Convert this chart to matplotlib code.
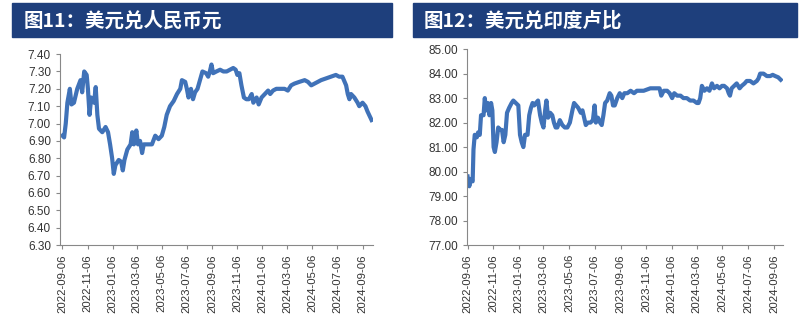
import numpy as np
import pandas as pd
import matplotlib
matplotlib.use("Agg")
import matplotlib.pyplot as plt
import matplotlib.dates as mdates
from matplotlib.patches import Rectangle

plt.rcParams['font.family'] = ['Liberation Sans', 'Noto Sans CJK SC', 'DejaVu Sans']

start = pd.Timestamp('2022-09-06')

# USD/CNY: days after 2022-09-06 and rate
cny_days = [0, 4, 8, 12, 18, 22, 28, 36, 44, 48,
            53, 59, 62, 66, 70, 77, 81, 85, 89, 97,
            105, 111, 116, 121, 125, 129, 137, 143, 147, 151,
            158, 166, 170, 174, 180, 184, 189, 194, 198, 206,
            218, 226, 234, 242, 248, 254, 262, 271, 279, 287,
            291, 299, 303, 307, 313, 318, 323, 329, 335, 341,
            350, 355, 359, 363, 367, 375, 384, 392, 400, 408,
            416, 422, 426, 431, 436, 442, 448, 454, 461, 465,
            473, 478, 485, 493, 501, 506, 513, 521, 533, 541,
            549, 557, 565, 577, 590, 598, 606, 614, 622, 630,
            642, 654, 666, 674, 682, 691, 695, 699, 703, 711,
            719, 723, 731, 738, 743, 749, 753]
cny_vals = [6.93, 6.92, 7.00, 7.12, 7.20, 7.11, 7.12, 7.20, 7.25, 7.18,
            7.30, 7.28, 7.20, 7.05, 7.15, 7.12, 7.21, 7.05, 6.97, 6.95,
            6.98, 6.95, 6.88, 6.80, 6.71, 6.76, 6.79, 6.78, 6.73, 6.79,
            6.85, 6.88, 6.95, 6.88, 6.96, 6.88, 6.90, 6.83, 6.88, 6.88,
            6.88, 6.93, 6.91, 6.93, 6.98, 7.05, 7.10, 7.13, 7.17, 7.20,
            7.25, 7.24, 7.20, 7.15, 7.20, 7.14, 7.18, 7.20, 7.25, 7.30,
            7.29, 7.27, 7.30, 7.34, 7.29, 7.30, 7.31, 7.30, 7.30, 7.31,
            7.32, 7.31, 7.28, 7.29, 7.22, 7.15, 7.14, 7.14, 7.17, 7.12,
            7.15, 7.11, 7.15, 7.17, 7.19, 7.17, 7.19, 7.20, 7.20, 7.20,
            7.19, 7.22, 7.23, 7.24, 7.25, 7.24, 7.22, 7.23, 7.24, 7.25,
            7.26, 7.27, 7.28, 7.27, 7.27, 7.22, 7.17, 7.14, 7.17, 7.15,
            7.12, 7.10, 7.12, 7.10, 7.07, 7.04, 7.02]

# USD/INR
inr_days = [0, 4, 8, 12, 14, 17, 22, 25, 29, 32,
            38, 41, 44, 48, 52, 56, 59, 62, 65, 69,
            73, 78, 82, 86, 90, 94, 99, 105, 109, 115,
            121, 125, 129, 133, 137, 143, 147, 151, 155, 159,
            163, 168, 173, 177, 181, 185, 188, 192, 197, 202,
            206, 210, 214, 220, 226, 232, 238, 244, 250, 254,
            259, 264, 270, 274, 278, 282, 287, 293, 299, 303,
            306, 311, 316, 320, 324, 328, 333, 339, 343, 347,
            351, 357, 363, 369, 374, 381, 389, 397, 404, 412,
            420, 428, 436, 444, 452, 458, 462, 468, 476, 482,
            488, 493, 500, 508, 515, 523, 531, 539, 547, 551,
            555, 559, 565, 571, 577, 583, 588, 595, 601, 607,
            612, 619, 623, 626, 630, 636, 642, 649, 654, 661,
            666, 674, 682, 690, 694, 698, 706, 714, 722, 728,
            734, 741, 747]
inr_vals = [79.8, 79.4, 79.7, 79.6, 80.9, 81.5, 81.4, 81.6, 81.5, 82.3,
            82.3, 83.0, 82.5, 82.8, 82.3, 82.8, 82.5, 81.0, 80.8, 81.2,
            81.8, 81.7, 81.7, 81.2, 81.5, 82.4, 82.6, 82.8, 82.9, 82.8,
            82.7, 81.5, 81.2, 81.0, 81.5, 81.5, 82.3, 82.6, 82.8, 82.7,
            82.8, 82.9, 82.3, 82.0, 81.8, 82.5, 82.9, 82.2, 82.4, 82.3,
            82.0, 81.8, 81.8, 82.1, 81.9, 81.8, 81.8, 82.0, 82.5, 82.8,
            82.7, 82.6, 82.4, 82.5, 82.2, 81.9, 82.0, 82.0, 82.1, 82.7,
            82.0, 82.2, 82.0, 81.9, 82.3, 82.8, 82.9, 83.2, 83.1, 82.7,
            82.7, 83.0, 83.2, 83.0, 83.2, 83.2, 83.3, 83.2, 83.3, 83.3,
            83.3, 83.35, 83.4, 83.4, 83.4, 83.4, 83.1, 83.3, 83.3, 83.2,
            83.0, 83.2, 83.1, 83.1, 83.0, 83.0, 82.9, 82.9, 82.8, 82.8,
            83.0, 83.5, 83.3, 83.4, 83.3, 83.6, 83.4, 83.5, 83.4, 83.5,
            83.5, 83.4, 83.2, 83.1, 83.4, 83.5, 83.6, 83.4, 83.5, 83.6,
            83.7, 83.7, 83.6, 83.7, 83.8, 84.0, 84.0, 83.9, 83.9, 83.95,
            83.9, 83.85, 83.75]

titles = ['图11：美元兑人民币元', '图12：美元兑印度卢比']

cny_dates = start + pd.to_timedelta(cny_days, unit='D')
inr_dates = start + pd.to_timedelta(inr_days, unit='D')

line_color = '#4072B8'
head_color = '#1E3F7C'

fig = plt.figure(figsize=(8, 3.32), dpi=100)

# header bars
for x0, x1, t in [(0.015, 0.49, titles[0]), (0.516, 0.996, titles[1])]:
    fig.patches.append(Rectangle((x0, 0.889), x1 - x0, 0.102, transform=fig.transFigure,
                                 color=head_color, zorder=0))
    fig.text(x0 + 0.014, 0.938, t, color='white', fontsize=14, fontweight='bold',
             family=['Noto Sans CJK SC', 'DejaVu Sans'], va='center', ha='left')

ax1 = fig.add_axes([0.075, 0.262, 0.391, 0.575])
ax2 = fig.add_axes([0.584, 0.262, 0.395, 0.59])

panels = [
    (ax1, cny_dates, cny_vals, (6.30, 7.40), np.arange(6.3, 7.401, 0.1), -6, 756),
    (ax2, inr_dates, inr_vals, (77.0, 85.0), np.arange(77, 85.01, 1.0), -1, 753),
]

for ax, d, v, ylim, yt, lo, hi in panels:
    ax.plot(d, v, color=line_color, lw=3.0, solid_joinstyle='round')
    ax.set_ylim(*ylim)
    ax.set_yticks(yt)
    ax.yaxis.set_major_formatter(plt.FormatStrFormatter('%.2f'))
    ax.set_xlim(start + pd.Timedelta(days=lo), start + pd.Timedelta(days=hi))
    ax.xaxis.set_major_locator(mdates.MonthLocator(bymonth=[1, 3, 5, 7, 9, 11], bymonthday=6))
    ax.xaxis.set_major_formatter(mdates.DateFormatter('%Y-%m-%d'))
    for s in ['top', 'right']:
        ax.spines[s].set_visible(False)
    for s in ['left', 'bottom']:
        ax.spines[s].set_color('#888888')
        ax.spines[s].set_linewidth(0.8)
    ax.tick_params(axis='both', colors='#888888', length=3, width=0.8, labelcolor='#333333')
    ax.tick_params(axis='x', labelrotation=90, labelsize=8.2)
    ax.tick_params(axis='y', labelsize=8.5)

fig.savefig('out.png', dpi=100)
